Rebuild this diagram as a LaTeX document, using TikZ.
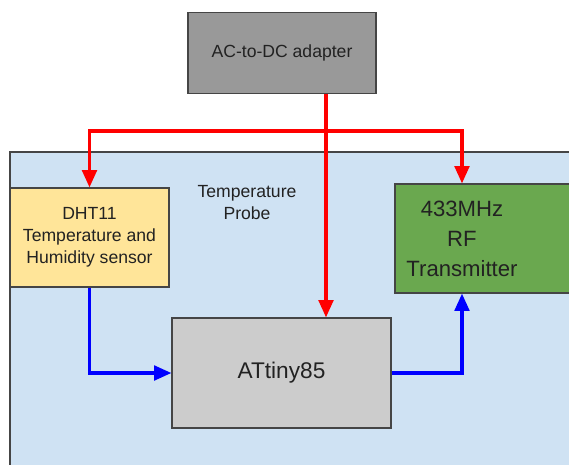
\documentclass[tikz,border=0pt]{standalone}
\usepackage{fontspec}
\setmainfont{Liberation Sans}
\usetikzlibrary{arrows.meta}
\definecolor{bgblue}{HTML}{CFE2F3}
\definecolor{adgray}{HTML}{999999}
\definecolor{dhty}{HTML}{FFE599}
\definecolor{rfgreen}{HTML}{6AA84F}
\definecolor{tinygray}{HTML}{CCCCCC}
\definecolor{edge}{HTML}{454545}
\definecolor{txt}{HTML}{222222}
\begin{document}
\begin{tikzpicture}[x=0.75pt,y=-0.75pt,
  box/.style={draw=edge,line width=0.9pt,inner sep=0pt,align=center,text=txt},
  small/.style={font=\fontsize{13.2}{16.5}\selectfont},
  big/.style={font=\fontsize{16.6}{22.5}\selectfont},
  power/.style={draw=red,line width=2.4pt,-{Triangle[length=13pt,width=11pt]}},
  signal/.style={draw=blue,line width=2.4pt,-{Triangle[length=13pt,width=11pt]}}]
\useasboundingbox (0,0) rectangle (569,465);
\clip (0,0) rectangle (569,465);
\fill[white] (0,0) rectangle (569,465);
\filldraw[fill=bgblue,draw=edge,line width=0.9pt] (10,152) rectangle (600,490);
\node[box,fill=adgray,small,minimum width=141pt,minimum height=60.75pt] (adapter) at (282,53) {AC-to-DC adapter};
\node[box,fill=dhty,small,minimum width=119.25pt,minimum height=74.25pt] (dht) at (89.5,237.5) {DHT11\\Temperature and\\Humidity sensor};
\node[box,fill=rfgreen,minimum width=150pt,minimum height=81.75pt] (rf) at (495,238.5) {};
\node[big,align=center,text=txt,inner sep=0pt] (rftext) at (462,239) {433MHz\\RF\\Transmitter};
\node[box,fill=tinygray,font=\fontsize{17}{20}\selectfont,minimum width=164.25pt,minimum height=82.5pt] (tiny) at (281.5,373) {ATtiny85};
\node[small,align=center,text=txt,inner sep=0pt] (probe) at (247,203) {Temperature\\Probe};
\coordinate (j) at (326,131);
\draw[power] (adapter.south -| j) -- (tiny.north -| j);
\draw[power] (j) -| (dht.north);
\draw[power] (j) -| (rftext |- rf.north);
\draw[signal] (dht.south) |- (tiny.west);
\draw[signal] (tiny.east) -| (rftext |- rf.south);
\end{tikzpicture}
\end{document}
